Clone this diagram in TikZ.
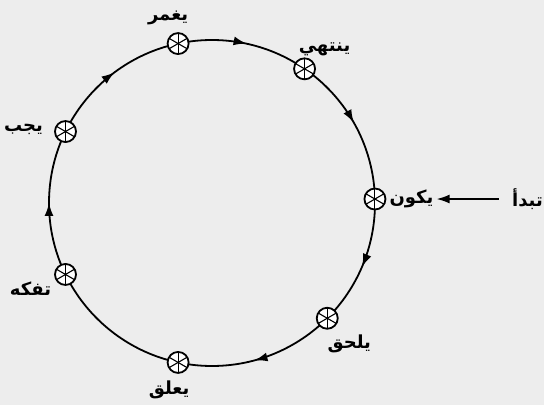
\documentclass[tikz,border=0pt]{standalone}
\usepackage{fontspec}
\newfontfamily\arabicfont[Script=Arabic]{DejaVu Sans}
\TeXXeTstate=1
\usetikzlibrary{arrows.meta,decorations.markings,positioning}
\newcommand{\arword}[1]{{\arabicfont\bfseries\beginR #1\endR}}

\begin{document}
\begin{tikzpicture}[x=1pt,y=1pt,
  wheel/.style={circle,draw,line width=1.8pt,fill=white,minimum size=21pt,inner sep=0pt,
    path picture={\foreach \a in {30,90,150}
      \draw[line width=1.1pt] (path picture bounding box.center) +(\a:11pt) -- +(\a+180:11pt);}},
  word/.style={font=\fontsize{18}{20}\selectfont,inner sep=1pt},
  tri/.tip={Latex[length=13pt,width=9pt]},
  ring/.style={line width=1.8pt,postaction={decorate},
    decoration={markings,
      mark=at position 0.064 with {\arrow{tri}},
      mark=at position 0.208 with {\arrow{tri}},
      mark=at position 0.500 with {\arrow{tri}},
      mark=at position 0.648 with {\arrow{tri}},
      mark=at position 0.784 with {\arrow{tri}},
      mark=at position 0.918 with {\arrow{tri}}}}]
\fill[black!7] (0,0) rectangle (544,405);
\useasboundingbox (0,0) rectangle (544,405);

% the cycle, run clockwise
\coordinate (c) at (212,202);
\draw[ring] ([shift={(0:163)}]c) arc[start angle=0,end angle=-360,radius=163];

% stations on the circle
\node[wheel] (yakun)   at ([shift={(1.4:163)}]c) {};
\node[wheel] (yalhaq)  at ([shift={(-45:163)}]c) {};
\node[wheel] (yaaliq)  at ([shift={(-102:163)}]c) {};
\node[wheel] (tafakkuh) at ([shift={(206:163)}]c) {};
\node[wheel] (yajib)   at ([shift={(154:163)}]c) {};
\node[wheel] (yaghmur) at ([shift={(102:163)}]c) {};
\node[wheel] (yantahi) at ([shift={(55.4:163)}]c) {};

% labels
\node[word,right=2pt of yakun] (l-yakun) {\arword{يكون}};
\node[word] (l-yalhaq)  at ([shift={(22,-26)}]yalhaq) {\arword{يلحق}};
\node[word] (l-yaaliq)  at ([shift={(-9,-27)}]yaaliq) {\arword{يعلق}};
\node[word] (l-tafakkuh) at ([shift={(-35,-14)}]tafakkuh) {\arword{تفكه}};
\node[word] (l-yajib)   at ([shift={(-42,2)}]yajib) {\arword{يجب}};
\node[word] (l-yaghmur) at ([shift={(-10,26)}]yaghmur) {\arword{يغمر}};
\node[word] (l-yantahi) at ([shift={(20,20)}]yantahi) {\arword{ينتهي}};

% entry
\node[word,anchor=east] (start) at (544,206) {\arword{تبدأ}};
\draw[line width=1.6pt,-{tri},shorten <=12pt,shorten >=2pt] (start.west) -- (l-yakun.east);
\end{tikzpicture}
\end{document}
